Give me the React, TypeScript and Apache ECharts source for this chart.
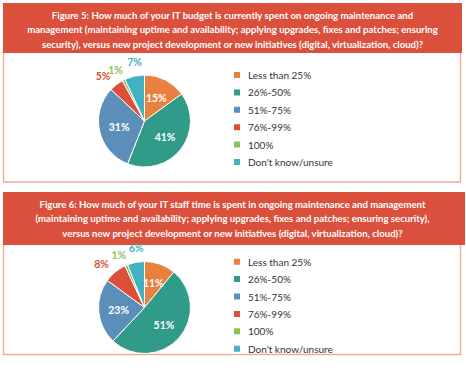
import React, { useEffect, useRef } from 'react';
import * as echarts from 'echarts';

const categories = ['Less than 25%', '26%-50%', '51%-75%', '76%-99%', '100%', "Don't know/unsure"];
const budgetValues = [15, 41, 31, 5, 1, 7];
const staffValues = [11, 51, 23, 8, 1, 6];
const colors = ['#e8803f', '#319b89', '#5b8fba', '#dd4f39', '#8ec15b', '#43b1c1'];
const title5Lines = [
  'Figure 5: How much of your IT budget is currently spent on ongoing maintenance and',
  'management (maintaining uptime and availability; applying upgrades, fixes and patches; ensuring',
  'security), versus new project development or new initiatives (digital, virtualization, cloud)?',
];
const title6Lines = [
  'Figure 6: How much of your IT staff time is spent in ongoing maintenance and management',
  '(maintaining uptime and availability; applying upgrades, fixes and patches; ensuring security),',
  'versus new project development or new initiatives (digital, virtualization, cloud)?',
];

const FONT = 'Lato, "DejaVu Sans", sans-serif';
const HEADER = '#db503c';
const BORDER = '#f3aaa1';
const RADIUS = 46;
const LABEL_RING: [number, number] = [46, 67];

function isOutside(v: number) {
  return v < 10;
}

const labelFont = {
  formatter: '{c}%',
  fontFamily: FONT,
  fontWeight: 'bold',
  fontSize: 10.5,
};

function pieSeries(values: number[], center: [number, number]) {
  return {
    type: 'pie',
    center,
    radius: RADIUS,
    startAngle: 90,
    clockwise: true,
    avoidLabelOverlap: false,
    itemStyle: { borderColor: '#ffffff', borderWidth: 1 },
    label: { show: true, position: 'inside', color: '#ffffff', ...labelFont },
    labelLine: { show: false },
    labelLayout: { hideOverlap: false },
    emphasis: { disabled: true },
    data: values.map((v, i) => ({
      name: categories[i],
      value: v,
      itemStyle: { color: colors[i] },
      label: { show: !isOutside(v) },
    })),
  };
}

// transparent ring carrying the labels of the small slices, just outside the pie
function outerLabelSeries(values: number[], center: [number, number]) {
  return {
    type: 'pie',
    center,
    radius: LABEL_RING,
    startAngle: 90,
    clockwise: true,
    silent: true,
    avoidLabelOverlap: false,
    itemStyle: { color: 'rgba(0,0,0,0)', borderWidth: 0 },
    label: { show: true, position: 'inside', ...labelFont },
    labelLine: { show: false },
    // spread the neighbouring small labels apart a little
    labelLayout: (p: any) => {
      const last = values.length - 1;
      if (p.dataIndex === last) return { dx: 3, dy: -1, hideOverlap: false };
      if (p.dataIndex === last - 1) return { dx: -2, dy: 2, hideOverlap: false };
      if (p.dataIndex === last - 2) return { dx: -5, dy: 2, hideOverlap: false };
      return { hideOverlap: false };
    },
    emphasis: { disabled: true },
    data: values.map((v, i) => ({
      name: categories[i],
      value: v,
      itemStyle: { color: 'rgba(0,0,0,0)' },
      label: { show: isOutside(v), color: colors[i] },
    })),
  };
}

function legendAt(top: number) {
  return {
    orient: 'vertical',
    left: 232,
    top,
    padding: 0,
    icon: 'rect',
    itemWidth: 8,
    itemHeight: 8,
    itemGap: 7.4,
    selectedMode: false,
    data: categories.map((n, i) => ({ name: n, itemStyle: { color: colors[i] } })),
    textStyle: {
      fontFamily: FONT,
      fontSize: 10,
      color: '#333333',
      lineHeight: 8,
      padding: [0, 0, 0, 2],
    },
  };
}

function headerText(lines: string[], y: number) {
  return {
    type: 'text',
    z: 10,
    x: 232.5,
    y,
    style: {
      text: lines.join('\n'),
      align: 'center',
      verticalAlign: 'top',
      fill: '#ffffff',
      fontFamily: FONT,
      fontWeight: 'bold',
      fontSize: 9.6,
      lineHeight: 14.5,
    },
  };
}

export default function App() {
  const ref = useRef<HTMLDivElement>(null);
  useEffect(() => {
    document.body.style.margin = '0';
    if (!ref.current) return;
    const chart = echarts.init(ref.current, null, { renderer: 'svg' });
    const c1: [number, number] = [144.5, 121];
    const c2: [number, number] = [144.5, 307.5];
    chart.setOption({
      animation: false,
      backgroundColor: '#ffffff',
      color: colors,
      graphic: [
        { type: 'rect', z: 0, shape: { x: 3.5, y: 50, width: 457, height: 132 }, style: { fill: '#ffffff', stroke: BORDER, lineWidth: 1.5 } },
        { type: 'rect', z: 1, shape: { x: 3, y: 3, width: 459, height: 50 }, style: { fill: HEADER } },
        { type: 'rect', z: 0, shape: { x: 3.5, y: 240, width: 457, height: 114.5 }, style: { fill: '#ffffff', stroke: BORDER, lineWidth: 1.5 } },
        { type: 'rect', z: 1, shape: { x: 3, y: 192, width: 462, height: 53 }, style: { fill: HEADER } },
        headerText(title5Lines, 7.75),
        headerText(title6Lines, 196.75),
      ],
      legend: [legendAt(70), legendAt(256.7)],
      series: [
        pieSeries(budgetValues, c1),
        pieSeries(staffValues, c2),
        outerLabelSeries(budgetValues, c1),
        outerLabelSeries(staffValues, c2),
      ],
    });
    return () => chart.dispose();
  }, []);
  return <div ref={ref} style={{ width: 466, height: 370 }} />;
}
